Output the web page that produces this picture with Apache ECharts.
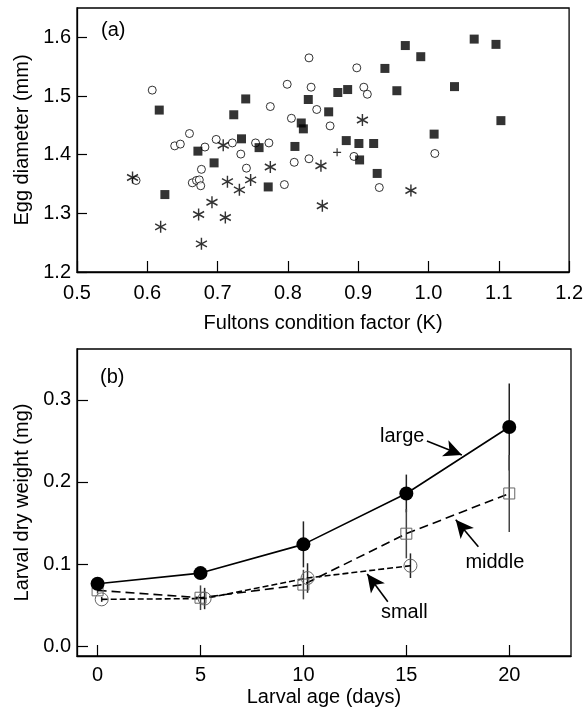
<!DOCTYPE html>
<html><head><meta charset="utf-8">
<script src="https://cdn.jsdelivr.net/npm/echarts@6/dist/echarts.min.js"></script>
<style>html,body{margin:0;padding:0;background:#fff}#c{width:586px;height:710px}</style>
</head><body><div id="c"></div>
<script>
// ---- Panel (a): egg diameter vs Fulton's K ----
const circlesK = [0.830,0.607,0.660,0.799,0.833,0.775,0.841,0.805,0.860,0.898,0.908,0.913,0.639,0.647,0.682,0.698,0.721,0.754,0.773,0.733,0.741,0.809,0.830,0.677,0.584,0.664,0.670,0.674,0.676,0.795,0.894,1.009,0.930];
const circlesD = [1.565,1.510,1.436,1.520,1.515,1.482,1.477,1.462,1.449,1.548,1.515,1.503,1.415,1.418,1.413,1.426,1.420,1.420,1.420,1.401,1.377,1.387,1.393,1.375,1.356,1.352,1.356,1.357,1.347,1.349,1.397,1.402,1.344];
const squaresK = [0.617,0.740,0.723,0.829,0.871,0.885,0.858,0.819,0.822,0.967,1.065,1.096,0.989,0.938,0.955,1.037,1.103,1.008,0.672,0.734,0.759,0.810,0.695,0.883,0.901,0.922,0.902,0.927,0.772,0.625];
const squaresD = [1.476,1.495,1.468,1.494,1.506,1.511,1.473,1.454,1.444,1.586,1.597,1.588,1.567,1.547,1.509,1.516,1.458,1.435,1.406,1.427,1.412,1.414,1.386,1.424,1.419,1.419,1.391,1.368,1.345,1.332];
const starsK = [0.906,0.708,0.775,0.847,0.579,0.714,0.731,0.747,0.692,0.673,0.711,0.849,0.619,0.677,0.975];
const starsD = [1.459,1.416,1.379,1.381,1.361,1.354,1.340,1.357,1.319,1.298,1.293,1.313,1.277,1.248,1.339];
const plusK = [0.870];
const plusD = [1.404];
const xTicksA = [0.5,0.6,0.7,0.8,0.9,1.0,1.1,1.2];
const yTicksA = [1.2,1.3,1.4,1.5,1.6];

// ---- Panel (b): larval dry weight vs age ----
const days = [0,5,10,15,20];
const largeMean = [0.076,0.089,0.124,0.186,0.267];
const largeErr  = [0.004,0.006,0.028,0.023,0.053];
const middleDays = [0,5,10,15,20];
const middleMean = [0.068,0.059,0.075,0.137,0.186];
const middleErr  = [0.004,0.015,0.018,0.030,0.047];
const smallDays = [0.2,5.2,10.2,15.2];
const smallMean = [0.057,0.058,0.083,0.098];
const smallErr  = [0.003,0.013,0.018,0.015];
const xTicksB = [0,5,10,15,20];
const yTicksB = [0,0.1,0.2,0.3];
const annotLabels = ['large','middle','small'];
const annotText = [[14.8,0.255],[19.3,0.102],[14.9,0.041]];
const annotArrows = [[[16.0,0.250],[17.7,0.233]],[[18.5,0.121],[17.4,0.154]],[[14.1,0.054],[13.1,0.088]]];

const FONT = 'Liberation Sans, Arial, Helvetica, sans-serif';
const FS = 20;
const zip = (a,b) => a.map((v,i)=>[v,b[i]]);
const errData = (xs, m, e) => xs.map((x,i)=>[x, m[i]-e[i], m[i]+e[i]]);

const axisCommon = {
  axisLine:{show:true,onZero:false,lineStyle:{color:'#000',width:1.3}},
  splitLine:{show:false},
  axisLabel:{color:'#000',fontSize:FS,fontFamily:FONT},
  nameTextStyle:{color:'#000',fontSize:FS,fontFamily:FONT}
};

const errRender = (color) => function(params, api){
  const x = api.value(0), lo = api.value(1), hi = api.value(2);
  const p1 = api.coord([x, lo]), p2 = api.coord([x, hi]);
  return {type:'line', shape:{x1:p1[0],y1:p1[1],x2:p2[0],y2:p2[1]}, style:{stroke:color,lineWidth:1.5}};
};

const chart = echarts.init(document.getElementById('c'), null, {renderer:'canvas'});
const option = {
  animation:false,
  backgroundColor:'#fff',
  title:[
    {text:'(a)', left:96, top:15, textStyle:{fontSize:FS,fontWeight:'normal',color:'#000',fontFamily:FONT}},
    {text:'(b)', left:95, top:362, textStyle:{fontSize:FS,fontWeight:'normal',color:'#000',fontFamily:FONT}}
  ],
  grid:[
    {left:77, top:8, width:494, height:264, show:true, borderColor:'#000', borderWidth:1.3, backgroundColor:'transparent'},
    {left:77, top:349, width:494, height:307, show:true, borderColor:'#000', borderWidth:1.3, backgroundColor:'transparent'}
  ],
  xAxis:[
    Object.assign({}, axisCommon, {gridIndex:0, type:'value', min:0.5, max:1.2,
      name:'Fultons condition factor (K)', nameLocation:'middle', nameGap:41,
      axisTick:{show:true, inside:true, length:11, customValues:xTicksA, lineStyle:{color:'#000',width:1.2}},
      axisLabel:Object.assign({}, axisCommon.axisLabel, {margin:11, customValues:xTicksA, formatter:v=>v.toFixed(1)})}),
    Object.assign({}, axisCommon, {gridIndex:1, type:'value', min:-1, max:23,
      name:'Larval age (days)', nameLocation:'middle', nameGap:31,
      axisTick:{show:true, inside:true, length:11, customValues:xTicksB, lineStyle:{color:'#000',width:1.2}},
      axisLabel:Object.assign({}, axisCommon.axisLabel, {margin:9, customValues:xTicksB, formatter:v=>String(Math.round(v))})})
  ],
  yAxis:[
    Object.assign({}, axisCommon, {gridIndex:0, type:'value', min:1.2, max:1.65,
      name:'Egg diameter (mm)', nameLocation:'middle', nameGap:40,
      axisTick:{show:true, inside:true, length:10, customValues:yTicksA, lineStyle:{color:'#000',width:1.2}},
      axisLabel:Object.assign({}, axisCommon.axisLabel, {margin:6, customValues:yTicksA, formatter:v=>v.toFixed(1)})}),
    Object.assign({}, axisCommon, {gridIndex:1, type:'value', min:-0.012, max:0.362,
      name:'Larval dry weight (mg)', nameLocation:'middle', nameGap:40,
      axisTick:{show:true, inside:true, length:11, customValues:yTicksB, lineStyle:{color:'#000',width:1.2}},
      axisLabel:Object.assign({}, axisCommon.axisLabel, {margin:6, customValues:yTicksB, formatter:v=>v.toFixed(1)})})
  ],
  series:[
    {type:'scatter', xAxisIndex:0, yAxisIndex:0, data:zip(circlesK,circlesD), symbol:'circle', symbolSize:8,
      itemStyle:{color:'#fff', borderColor:'#000', borderWidth:1}},
    {type:'scatter', xAxisIndex:0, yAxisIndex:0, data:zip(squaresK,squaresD), symbol:'rect', symbolSize:9,
      itemStyle:{color:'#000'}},
    {type:'scatter', xAxisIndex:0, yAxisIndex:0, data:zip(starsK,starsD),
      symbol:'path://M5,0L5,10M0.67,2.5L9.33,7.5M0.67,7.5L9.33,2.5', symbolSize:[11,12],
      itemStyle:{color:'rgba(0,0,0,0)', borderColor:'#000', borderWidth:1.5}},
    {type:'scatter', xAxisIndex:0, yAxisIndex:0, data:zip(plusK,plusD),
      symbol:'path://M0,5L10,5M5,0L5,10', symbolSize:8,
      itemStyle:{color:'rgba(0,0,0,0)', borderColor:'#000', borderWidth:1.2}},

    {type:'custom', xAxisIndex:1, yAxisIndex:1, data:errData(days,largeMean,largeErr), renderItem:errRender('#222'), z:1},
    {type:'custom', xAxisIndex:1, yAxisIndex:1, data:errData(middleDays,middleMean,middleErr), renderItem:errRender('#444'), z:1},
    {type:'custom', xAxisIndex:1, yAxisIndex:1, data:errData(smallDays,smallMean,smallErr), renderItem:errRender('#222'), z:1},
    {type:'line', xAxisIndex:1, yAxisIndex:1, data:zip(smallDays,smallMean), symbol:'circle', symbolSize:13,
      lineStyle:{color:'#000', width:1.6, type:[6,3]},
      itemStyle:{color:'rgba(255,255,255,0)', borderColor:'#666', borderWidth:1}, z:3},
    {type:'line', xAxisIndex:1, yAxisIndex:1, data:zip(middleDays,middleMean), symbol:'rect', symbolSize:11,
      lineStyle:{color:'#000', width:1.6, type:[9,5]},
      itemStyle:{color:'rgba(255,255,255,0)', borderColor:'#666', borderWidth:1}, z:3},
    {type:'line', xAxisIndex:1, yAxisIndex:1, data:zip(days,largeMean), symbol:'circle', symbolSize:14,
      lineStyle:{color:'#000', width:1.6}, itemStyle:{color:'#000'}, z:4,
      markLine:{silent:true, symbol:['none','arrow'], symbolSize:[13,18], animation:false,
        lineStyle:{color:'#000', width:1.6, type:'solid'}, label:{show:false},
        data: annotArrows.map(a=>[{coord:a[0]},{coord:a[1]}])},
      markPoint:{silent:true, symbol:'circle', symbolSize:0,
        label:{show:true, position:'inside', color:'#000', fontSize:FS, fontFamily:FONT, formatter:p=>p.name},
        data: annotText.map((c,i)=>({name:annotLabels[i], coord:c}))}}
  ]
};
chart.setOption(option);
</script>
</body></html>
